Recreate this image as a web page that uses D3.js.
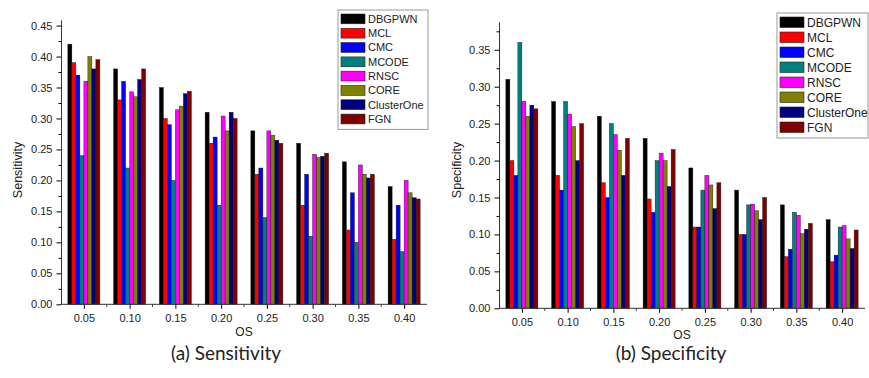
<!DOCTYPE html>
<html>
<head>
<meta charset="utf-8">
<script src="https://cdn.jsdelivr.net/npm/d3@7"></script>
<style>
  body { margin: 0; background: #fff; }
  text { font-family: "Liberation Sans", Arial, sans-serif; fill: #222; }
</style>
</head>
<body>
<svg id="svgContainer"></svg>
<script>
// data
const osLabels = ["0.05", "0.10", "0.15", "0.20", "0.25", "0.30", "0.35", "0.40"];
const methods = ["DBGPWN", "MCL", "CMC", "MCODE", "RNSC", "CORE", "ClusterOne", "FGN"];
const methodColors = ["#000000", "#ff0000", "#0000ff", "#008080", "#ff00ff", "#808000", "#000080", "#800000"];

// sensitivity, one array per method, values per OS
const sensDBGPWN = [0.42, 0.38, 0.35, 0.31, 0.28, 0.26, 0.23, 0.19];
const sensMCL = [0.39, 0.33, 0.30, 0.26, 0.21, 0.16, 0.12, 0.105];
const sensCMC = [0.37, 0.36, 0.29, 0.27, 0.22, 0.21, 0.18, 0.16];
const sensMCODE = [0.24, 0.22, 0.20, 0.16, 0.14, 0.11, 0.10, 0.085];
const sensRNSC = [0.36, 0.343, 0.314, 0.304, 0.28, 0.242, 0.225, 0.20];
const sensCORE = [0.40, 0.335, 0.32, 0.28, 0.273, 0.237, 0.21, 0.18];
const sensClusterOne = [0.38, 0.363, 0.34, 0.31, 0.265, 0.239, 0.204, 0.172];
const sensFGN = [0.395, 0.38, 0.344, 0.30, 0.26, 0.244, 0.21, 0.17];

// specificity
const specDBGPWN = [0.31, 0.28, 0.26, 0.23, 0.19, 0.16, 0.14, 0.12];
const specMCL = [0.20, 0.18, 0.17, 0.148, 0.11, 0.10, 0.07, 0.063];
const specCMC = [0.18, 0.16, 0.15, 0.13, 0.11, 0.10, 0.08, 0.072];
const specMCODE = [0.36, 0.28, 0.25, 0.20, 0.16, 0.14, 0.13, 0.11];
const specRNSC = [0.28, 0.263, 0.235, 0.21, 0.18, 0.141, 0.126, 0.112];
const specCORE = [0.26, 0.246, 0.214, 0.20, 0.167, 0.132, 0.101, 0.094];
const specClusterOne = [0.275, 0.20, 0.18, 0.165, 0.135, 0.12, 0.107, 0.081];
const specFGN = [0.27, 0.25, 0.23, 0.215, 0.17, 0.15, 0.115, 0.106];

const yTicksSens = [0, 0.05, 0.10, 0.15, 0.20, 0.25, 0.30, 0.35, 0.40, 0.45];
const yTicksSpec = [0, 0.05, 0.10, 0.15, 0.20, 0.25, 0.30, 0.35];

const sensSeries = [sensDBGPWN, sensMCL, sensCMC, sensMCODE, sensRNSC, sensCORE, sensClusterOne, sensFGN];
const specSeries = [specDBGPWN, specMCL, specCMC, specMCODE, specRNSC, specCORE, specClusterOne, specFGN];

const svgWidth = 869;
const svgHeight = 378;
const svg = d3.select("#svgContainer")
  .attr("width", svgWidth)
  .attr("height", svgHeight);

// draws one grouped bar panel
function drawPanel(opt) {
  const x = d3.scaleBand()
    .domain(osLabels)
    .range([opt.left, opt.right])
    .paddingInner(0.3)
    .paddingOuter(0.15);
  const xInner = d3.scaleBand()
    .domain(methods)
    .range([0, x.bandwidth()]);
  const y = d3.scaleLinear()
    .domain([0, opt.yMax])
    .range([opt.bottom, opt.top]);

  const g = svg.append("g");

  // bars
  const groups = g.selectAll(".grp")
    .data(osLabels)
    .enter()
    .append("g")
    .attr("transform", d => `translate(${x(d)},0)`);

  groups.selectAll("rect")
    .data((d, i) => methods.map((m, j) => ({ m: m, v: opt.series[j][i], c: methodColors[j] })))
    .enter()
    .append("rect")
    .attr("x", d => xInner(d.m))
    .attr("width", xInner.bandwidth())
    .attr("y", d => y(d.v))
    .attr("height", d => opt.bottom - y(d.v))
    .attr("fill", d => d.c)
    .attr("stroke", "#111")
    .attr("stroke-width", 0.4);

  // y axis with one minor tick between majors
  const yMinor = d3.range(0.025, opt.yMax, 0.05);
  g.append("g")
    .attr("transform", `translate(${opt.left},0)`)
    .call(d3.axisLeft(y).tickValues(yMinor).tickSize(2.5).tickFormat(""))
    .call(a => a.select(".domain").remove());
  g.append("g")
    .attr("transform", `translate(${opt.left},0)`)
    .call(d3.axisLeft(y).tickValues(opt.yTicks).tickSize(4.5).tickSizeOuter(0).tickFormat(d3.format(".2f")))
    .call(a => a.selectAll("text").attr("font-size", 11).attr("dx", "-1"))
    .call(a => a.select(".domain").attr("stroke", "#333"));

  // x axis: major ticks at groups, minor ticks between
  const xMinor = osLabels.slice(1).map(d => x(d) - x.step() * x.paddingInner() / 2);
  g.append("g")
    .attr("transform", `translate(0,${opt.bottom})`)
    .selectAll("line")
    .data(xMinor)
    .enter()
    .append("line")
    .attr("x1", d => d).attr("x2", d => d)
    .attr("y1", 0).attr("y2", 2.5)
    .attr("stroke", "#333");
  const xCenter = d3.scalePoint().domain(osLabels)
    .range([x(osLabels[0]) + x.bandwidth() / 2, x(osLabels[7]) + x.bandwidth() / 2]);
  g.append("g")
    .attr("transform", `translate(0,${opt.bottom})`)
    .call(d3.axisBottom(xCenter).tickSize(4.5).tickSizeOuter(0))
    .call(a => a.selectAll("text").attr("font-size", 11).attr("dy", "0.95em"))
    .call(a => a.select(".domain").remove());
  g.append("line")
    .attr("x1", opt.left).attr("x2", opt.right)
    .attr("y1", opt.bottom).attr("y2", opt.bottom)
    .attr("stroke", "#333");

  // axis titles
  g.append("text")
    .attr("x", (opt.left + opt.right) / 2)
    .attr("y", opt.osY)
    .attr("text-anchor", "middle")
    .attr("font-size", 12)
    .text("OS");
  g.append("text")
    .attr("transform", `translate(${opt.yTitleX},${opt.yTitleY}) rotate(-90)`)
    .attr("text-anchor", "middle")
    .attr("font-size", 12.5)
    .text(opt.yTitle);

  // legend
  const lg = g.append("g").attr("transform", `translate(${opt.legX},${opt.legY})`);
  lg.append("rect")
    .attr("width", opt.legW)
    .attr("height", opt.legRow * 8 + 5)
    .attr("fill", "#fff")
    .attr("stroke", "#999")
    .attr("stroke-width", 1);
  const items = lg.selectAll(".item")
    .data(methods)
    .enter()
    .append("g")
    .attr("transform", (d, i) => `translate(3,${4 + i * opt.legRow})`);
  items.append("rect")
    .attr("width", 24)
    .attr("height", opt.legRow - 4.5)
    .attr("fill", (d, i) => methodColors[i])
    .attr("stroke", "#222")
    .attr("stroke-width", 0.6);
  items.append("text")
    .attr("x", 27)
    .attr("y", (opt.legRow - 4.5) / 2)
    .attr("dy", "0.36em")
    .attr("font-size", opt.legFont)
    .text(d => d);

  // caption
  svg.append("text")
    .attr("x", opt.capX)
    .attr("y", 360)
    .attr("text-anchor", "middle")
    .style("font-family", "Lato, 'Open Sans', sans-serif")
    .attr("font-size", 19)
    .text(opt.caption);
}

drawPanel({
  series: sensSeries, yTicks: yTicksSens, yMax: 0.459,
  left: 61, right: 427, top: 20, bottom: 304.3,
  osY: 335.5, yTitle: "Sensitivity", yTitleX: 22, yTitleY: 170,
  legX: 338, legY: 10, legW: 90, legRow: 14.3, legFont: 11,
  caption: "(a) Sensitivity", capX: 226
});

drawPanel({
  series: specSeries, yTicks: yTicksSpec, yMax: 0.388,
  left: 499, right: 865, top: 21.7, bottom: 308.3,
  osY: 338.5, yTitle: "Specificity", yTitleX: 461, yTitleY: 170,
  legX: 777, legY: 13, legW: 91, legRow: 15, legFont: 12,
  caption: "(b) Specificity", capX: 671
});
</script>
</body>
</html>
